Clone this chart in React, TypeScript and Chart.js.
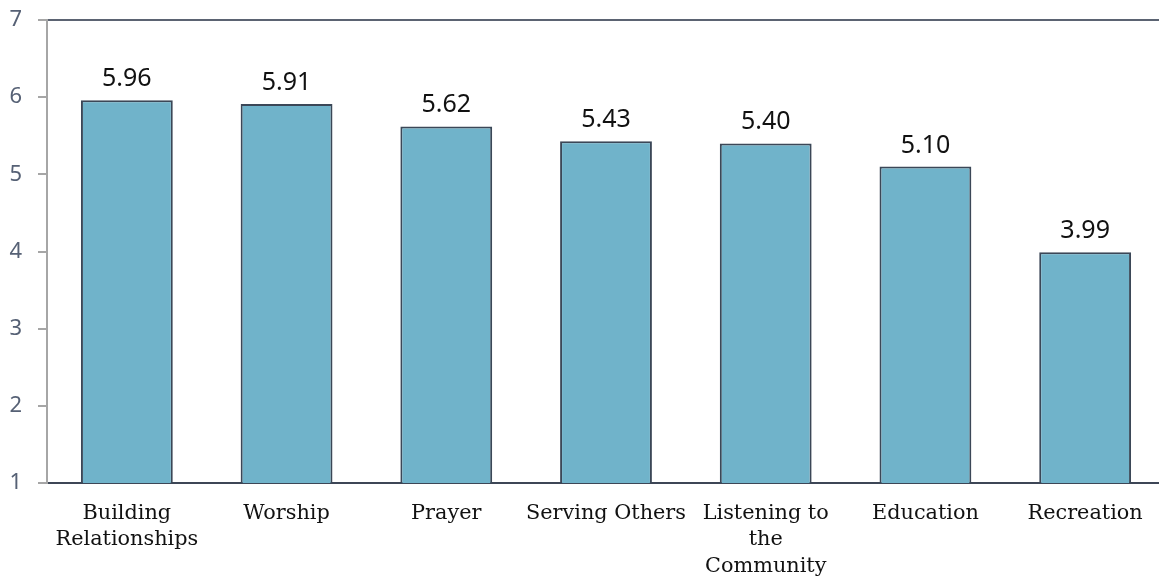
import React, { useEffect, useRef } from "react";
import { Chart, registerables } from "chart.js";

Chart.register(...registerables);

// Ministry areas and their mean ratings
const categories: (string | string[])[] = [
  ["Building", "Relationships"],
  "Worship",
  "Prayer",
  "Serving Others",
  ["Listening to", "the", "Community"],
  "Education",
  "Recreation",
];
const ratings: number[] = [5.96, 5.91, 5.62, 5.43, 5.4, 5.1, 3.99];
const yTicks: number[] = [1, 2, 3, 4, 5, 6, 7];

const BAR_FILL = "#70b3ca";
const BAR_EDGE = "#3b4757";

// Writes each bar's value a little above its top
const valueLabels = {
  id: "valueLabels",
  afterDatasetsDraw(chart: any) {
    const { ctx } = chart;
    const meta = chart.getDatasetMeta(0);
    ctx.save();
    ctx.font = '25px "Noto Sans"';
    ctx.fillStyle = "#111111";
    ctx.textAlign = "center";
    ctx.textBaseline = "alphabetic";
    meta.data.forEach((bar: any, i: number) => {
      const v = chart.data.datasets[0].data[i] as number;
      ctx.fillText(v.toFixed(2), bar.x, bar.y - 14);
    });
    ctx.restore();
  },
};

export default function App() {
  const canvasRef = useRef<HTMLCanvasElement | null>(null);

  useEffect(() => {
    if (!canvasRef.current) return;
    const chart = new Chart(canvasRef.current, {
      type: "bar",
      data: {
        labels: categories,
        datasets: [
          {
            data: ratings,
            backgroundColor: BAR_FILL,
            borderColor: BAR_EDGE,
            borderWidth: 2,
            borderSkipped: false,
            categoryPercentage: 1,
            barPercentage: 0.575,
          },
        ],
      },
      options: {
        responsive: false,
        animation: false,
        layout: { padding: { top: 20, left: 0, right: 0, bottom: 0 } },
        plugins: {
          legend: { display: false },
          tooltip: { enabled: false },
          title: { display: false },
        },
        scales: {
          x: {
            grid: { display: false, drawTicks: false },
            border: { color: "#3d4656", width: 2 },
            ticks: {
              color: "#111111",
              font: { family: '"DejaVu Serif"', size: 20.8, lineHeight: 1.28 },
              padding: 17,
              maxRotation: 0,
              autoSkip: false,
            },
            afterFit(scale: any) {
              scale.height = 95;
              scale.paddingLeft = 0;
              scale.paddingRight = 0;
            },
          },
          y: {
            min: 1,
            max: 7,
            afterBuildTicks(scale: any) {
              scale.ticks = yTicks.map((v) => ({ value: v }));
            },
            grid: {
              color: (c: any) => (c.tick && c.tick.value === 7 ? "#5b6372" : "rgba(0,0,0,0)"),
              lineWidth: 2,
              tickColor: "#a6a6a6",
              tickLength: 9,
              drawTicks: true,
            },
            border: { color: "#a6a6a6", width: 2 },
            ticks: {
              color: "#566175",
              font: { family: '"Noto Sans"', size: 22 },
              padding: 16,
            },
            afterFit(scale: any) {
              scale.width = 47;
              scale.paddingTop = 0;
              scale.paddingBottom = 0;
            },
          },
        },
      },
      plugins: [valueLabels],
    });
    return () => chart.destroy();
  }, []);

  return (
    <div
      style={{
        position: "fixed",
        left: 0,
        top: 0,
        width: 1159,
        height: 578,
        overflow: "hidden",
        background: "#ffffff",
      }}
    >
      <canvas ref={canvasRef} width={1165} height={578} style={{ display: "block" }} />
    </div>
  );
}
